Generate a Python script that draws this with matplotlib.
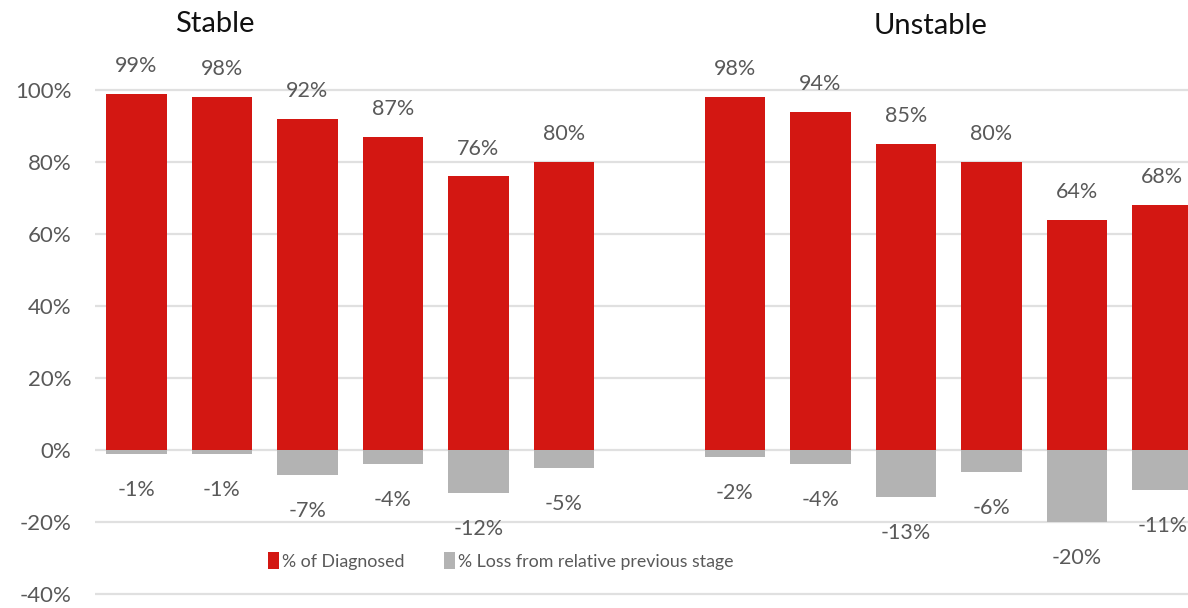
import matplotlib
matplotlib.use("Agg")
import matplotlib.pyplot as plt
from matplotlib.ticker import FuncFormatter
from matplotlib.patches import Patch

plt.rcParams['font.family'] = ['Lato', 'DejaVu Sans']

groups = ["Stable", "Unstable"]
stable_diag = [99, 98, 92, 87, 76, 80]
stable_loss = [-1, -1, -7, -4, -12, -5]
unstable_diag = [98, 94, 85, 80, 64, 68]
unstable_loss = [-2, -4, -13, -6, -20, -11]
yticks = [-40, -20, 0, 20, 40, 60, 80, 100]
legend_labels = ["% of Diagnosed", "% Loss from relative previous stage"]

RED = "#D31712"
GREY = "#B3B3B3"
TXT = "#595959"

W, H = 1188, 608
fig = plt.figure(figsize=(W / 100, H / 100), dpi=100)
ax = fig.add_axes([95 / W, 0, 1 - 95 / W, 1])

diag = stable_diag + [None] + unstable_diag
loss = stable_loss + [None] + unstable_loss
xs = [i for i, v in enumerate(diag) if v is not None]
dv = [v for v in diag if v is not None]
lv = [v for v in loss if v is not None]

bw = 0.71
ax.bar(xs, dv, width=bw, color=RED, zorder=3)
ax.bar(xs, lv, width=bw, color=GREY, zorder=2)

for x, v in zip(xs, dv):
    ax.annotate(f"{v}%", (x, v), xytext=(0, 20), textcoords="offset points",
                ha="center", va="center", fontsize=15.5, color=TXT)
for x, v in zip(xs, lv):
    ax.annotate(f"{v}%", (x, v), xytext=(0, -26), textcoords="offset points",
                ha="center", va="center", fontsize=15.5, color=TXT)

ax.set_xlim(-0.485, 12.3)
ax.set_ylim(-43.9, 125)
ax.set_yticks(yticks)
ax.yaxis.set_major_formatter(FuncFormatter(lambda v, p: f"{int(v)}%"))
ax.tick_params(axis="y", length=0, pad=17, labelsize=16, labelcolor=TXT)
ax.set_xticks([])
for s in ax.spines.values():
    s.set_visible(False)
ax.grid(axis="y", color="#E0E0E0", linewidth=1.6, zorder=0)
ax.set_axisbelow(True)

fig.text(215 / W, 1 - 24 / H, groups[0], ha="center", va="center",
         fontsize=21, color="#111111")
fig.text(931 / W, 1 - 26 / H, groups[1], ha="center", va="center",
         fontsize=21, color="#111111")

handles = [Patch(facecolor=RED), Patch(facecolor=GREY)]
leg = fig.legend(handles, legend_labels, loc="center", bbox_to_anchor=(501 / W, 1 - 561 / H),
                 ncol=2, frameon=False, fontsize=12.8, handlelength=0.6, handleheight=1.1,
                 handletextpad=0.2, columnspacing=2.2, labelcolor=TXT)

fig.savefig("out.png", dpi=100, facecolor="white")
